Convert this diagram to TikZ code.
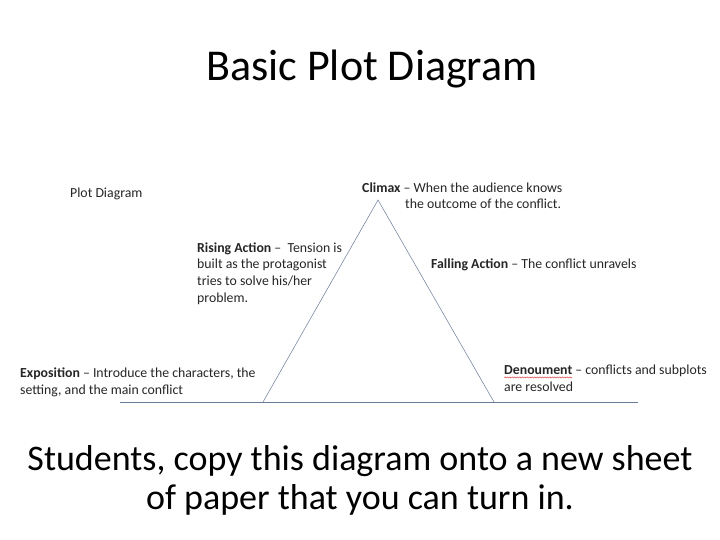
\documentclass[tikz,border=0pt]{standalone}
\usepackage{fontspec}
\setmainfont{Carlito}
\usetikzlibrary{decorations.pathmorphing}
\definecolor{plotline}{RGB}{105,122,150}
\definecolor{spellred}{RGB}{220,60,60}

\begin{document}
\begin{tikzpicture}[x=1pt,y=-1pt]

    \tikzset{
      note/.style={
        anchor=base west,
        inner sep=0pt,
        align=left,
        text=black!85,
        font=\fontsize{13.8}{16.6}\selectfont,
      },
      big/.style={
        anchor=base,
        inner sep=0pt,
        align=center,
        font=\fontsize{44}{46}\selectfont,
      },
      spell/.style={
        color=spellred,
        decorate,
        decoration={snake,amplitude=0.6pt,segment length=2.5pt},
      },
    }
    \useasboundingbox[fill=white] (0,0) rectangle (720,540);

    % heading and footer (base = last line)
    \node[big] (title) at (372,81) {Basic Plot Diagram};
    \node[big,font=\fontsize{36}{39}\selectfont] (footer) at (360,509)
      {Students, copy this diagram onto a new sheet\\of paper that you can turn in.};

    % plot line
    \coordinate (axisL) at (120,402);
    \coordinate (axisR) at (638,402);
    \coordinate (start) at (263,402);
    \coordinate (peak) at (378,200);
    \coordinate (finish) at (494,402);
	\draw[color=plotline,line width=0.5pt] (axisL)--(axisR);
	\draw[color=plotline,line width=0.5pt] (start)--(peak)--(finish);

    % labels
    \node[note] (caption) at (70,197) {Plot Diagram};
    \node[note] (climax) at (362,209)
      {\textbf{Climax} – When the audience knows\\\hspace*{43pt}the outcome of the conflict.};
    \node[note] (rising) at (197,302)
      {\textbf{Rising Action} –\ \ Tension is\\built as the protagonist\\tries to solve his/her\\problem.};
    \node[note] (falling) at (431,268) {\textbf{Falling Action} – The conflict unravels};
    \node[note] (exposition) at (20,394)
      {\textbf{Exposition} – Introduce the characters, the\\setting, and the main conflict};
    \node[note] (denoument) at (504,391)
      {\textbf{Denoument} – conflicts and subplots\\are resolved};
    \draw[spell] ([yshift=13.6pt]denoument.base west) -- ++(68,0);

\end{tikzpicture}
\end{document}
